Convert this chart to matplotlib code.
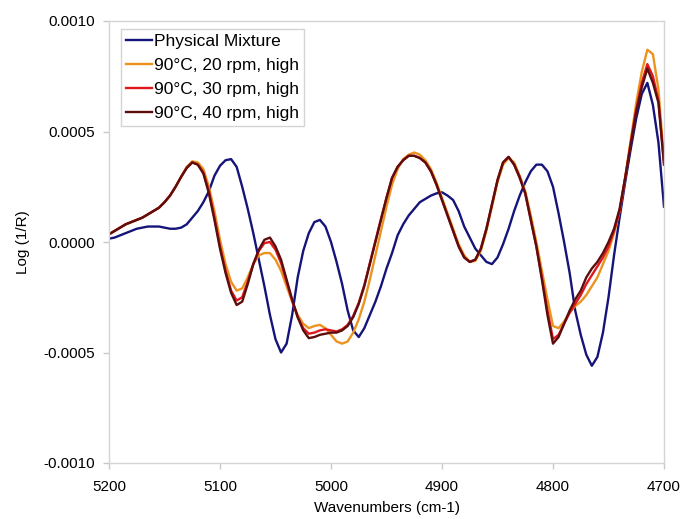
import numpy as np
import matplotlib
matplotlib.use("Agg")
import matplotlib.pyplot as plt

plt.rcParams['font.family'] = ['Liberation Sans', 'DejaVu Sans']

# wavenumbers, 5 cm-1 steps from 5200 down to 4700
wavenumbers = np.arange(5200, 4695, -5)

# spectra in units of 1e-4
physical_mixture = [
    0.15, 0.2, 0.3, 0.4, 0.5, 0.6, 0.65, 0.7, 0.7, 0.7,
    0.65, 0.6, 0.6, 0.65, 0.8, 1.1, 1.4, 1.8, 2.3, 3.0,
    3.45, 3.7, 3.75, 3.4, 2.5, 1.5, 0.4, -0.8, -2.0, -3.3,
    -4.4, -5.0, -4.6, -3.3, -1.6, -0.4, 0.4, 0.9, 1.0, 0.7,
    0.0, -0.9, -1.9, -3.1, -4.0, -4.3, -3.9, -3.3, -2.7, -2.0,
    -1.2, -0.5, 0.3, 0.8, 1.2, 1.5, 1.8, 1.95, 2.1, 2.2,
    2.25, 2.1, 1.9, 1.4, 0.7, 0.2, -0.3, -0.6, -0.9, -1.0,
    -0.7, -0.1, 0.6, 1.4, 2.1, 2.7, 3.2, 3.5, 3.5, 3.2,
    2.5, 1.3, 0.0, -1.4, -3.1, -4.2, -5.1, -5.6, -5.2, -4.1,
    -2.5, -0.6, 1.1, 2.7, 4.2, 5.6, 6.7, 7.2, 6.2, 4.5,
    1.6,
]
rpm20 = [
    0.35, 0.5, 0.65, 0.8, 0.9, 1.0, 1.1, 1.25, 1.4, 1.55,
    1.8, 2.1, 2.5, 2.95, 3.4, 3.65, 3.6, 3.3, 2.5, 1.4,
    0.1, -1.0, -1.8, -2.2, -2.1, -1.6, -1.0, -0.6, -0.5, -0.5,
    -0.8, -1.3, -2.0, -2.7, -3.3, -3.7, -3.9, -3.8, -3.75, -3.9,
    -4.2, -4.5, -4.6, -4.5, -4.1, -3.5, -2.7, -1.7, -0.6, 0.5,
    1.6, 2.6, 3.3, 3.75, 3.95, 4.05, 3.95, 3.7, 3.3, 2.7,
    2.0, 1.3, 0.6, -0.1, -0.6, -0.9, -0.85, -0.4, 0.5, 1.6,
    2.7, 3.5, 3.8, 3.6, 3.0, 2.3, 1.2, 0.0, -1.3, -2.6,
    -3.8, -3.9, -3.6, -3.2, -2.9, -2.7, -2.4, -2.0, -1.6, -1.0,
    -0.4, 0.4, 1.4, 2.9, 4.6, 6.3, 7.7, 8.7, 8.5, 6.9,
    3.7,
]
rpm30 = [
    0.35, 0.5, 0.65, 0.8, 0.9, 1.0, 1.1, 1.25, 1.4, 1.55,
    1.8, 2.1, 2.5, 2.95, 3.35, 3.6, 3.5, 3.15, 2.3, 1.1,
    -0.2, -1.3, -2.2, -2.65, -2.5, -1.8, -1.0, -0.4, -0.05, 0.0,
    -0.35, -0.95, -1.8, -2.65, -3.4, -3.9, -4.15, -4.1, -4.0, -3.95,
    -4.0, -4.05, -3.95, -3.75, -3.35, -2.75, -1.95, -0.95, 0.05, 1.05,
    2.0, 2.9, 3.4, 3.7, 3.9, 3.9, 3.8, 3.6, 3.2, 2.6,
    1.9, 1.2, 0.5, -0.2, -0.7, -0.9, -0.8, -0.3, 0.6, 1.7,
    2.8, 3.6, 3.85, 3.5, 2.95, 2.2, 1.0, -0.2, -1.6, -3.1,
    -4.4, -4.2, -3.7, -3.2, -2.8, -2.4, -1.9, -1.5, -1.1, -0.7,
    -0.2, 0.5, 1.4, 2.9, 4.5, 6.0, 7.2, 8.05, 7.5, 6.4,
    3.6,
]
rpm40 = [
    0.35, 0.5, 0.65, 0.8, 0.9, 1.0, 1.1, 1.25, 1.4, 1.55,
    1.8, 2.1, 2.5, 2.95, 3.35, 3.6, 3.5, 3.1, 2.2, 1.0,
    -0.3, -1.4, -2.3, -2.85, -2.7, -1.9, -1.0, -0.35, 0.1, 0.2,
    -0.2, -0.8, -1.7, -2.6, -3.4, -4.0, -4.35, -4.3, -4.2, -4.15,
    -4.1, -4.1, -4.0, -3.8, -3.4, -2.8, -2.0, -1.0, 0.0, 1.0,
    2.0, 2.9, 3.4, 3.7, 3.9, 3.9, 3.8, 3.6, 3.2, 2.6,
    1.9, 1.2, 0.5, -0.2, -0.7, -0.9, -0.8, -0.3, 0.6, 1.7,
    2.8, 3.6, 3.85, 3.5, 2.9, 2.2, 1.0, -0.2, -1.7, -3.3,
    -4.6, -4.3, -3.7, -3.1, -2.6, -2.2, -1.6, -1.2, -0.9, -0.5,
    0.0, 0.6, 1.5, 2.9, 4.4, 5.9, 7.0, 7.85, 7.2, 6.3,
    3.5,
]

labels = ["Physical Mixture", "90\u00b0C, 20 rpm, high",
          "90\u00b0C, 30 rpm, high", "90\u00b0C, 40 rpm, high"]
colors = ["#14147a", "#eb931e", "#e0181e", "#5c0e0e"]

fig = plt.figure(figsize=(6.81, 5.19), dpi=100)
ax = fig.add_axes([109 / 681, 1 - 463 / 519, 555 / 681, 442 / 519])

for series, label, color in zip([physical_mixture, rpm20, rpm30, rpm40], labels, colors):
    ax.plot(wavenumbers, np.array(series) * 1e-4, color=color, lw=1.7, label=label,
            solid_joinstyle="round")

ax.set_xlim(5200, 4700)
ax.set_ylim(-0.001, 0.001)
ax.set_xticks([5200, 5100, 5000, 4900, 4800, 4700])
ax.set_yticks([-0.001, -0.0005, 0.0, 0.0005, 0.001])
ax.set_yticklabels(["-0.0010", "-0.0005", "0.0000", "0.0005", "0.0010"])

for s in ax.spines.values():
    s.set_color("#d4d4d4")
    s.set_linewidth(1.0)
ax.tick_params(direction="out", length=4, width=1, color="#c8c8c8",
               labelsize=11, labelcolor="black")
ax.tick_params(axis="y", pad=6)
ax.tick_params(axis="x", pad=8)

ax.set_xlabel("Wavenumbers (cm-1)", fontsize=11, labelpad=5)
ax.set_ylabel("Log (1/R)", fontsize=11, labelpad=10)

leg = ax.legend(loc="upper left", bbox_to_anchor=(0.021, 0.982), borderaxespad=0,
                fontsize=12.5, handlelength=1.5, handletextpad=0.1,
                labelspacing=0.5, borderpad=0.3, fancybox=False, framealpha=1)
leg.get_frame().set_edgecolor("#d4d4d4")
leg.get_frame().set_linewidth(1.0)

fig.savefig("out.png", dpi=100)
